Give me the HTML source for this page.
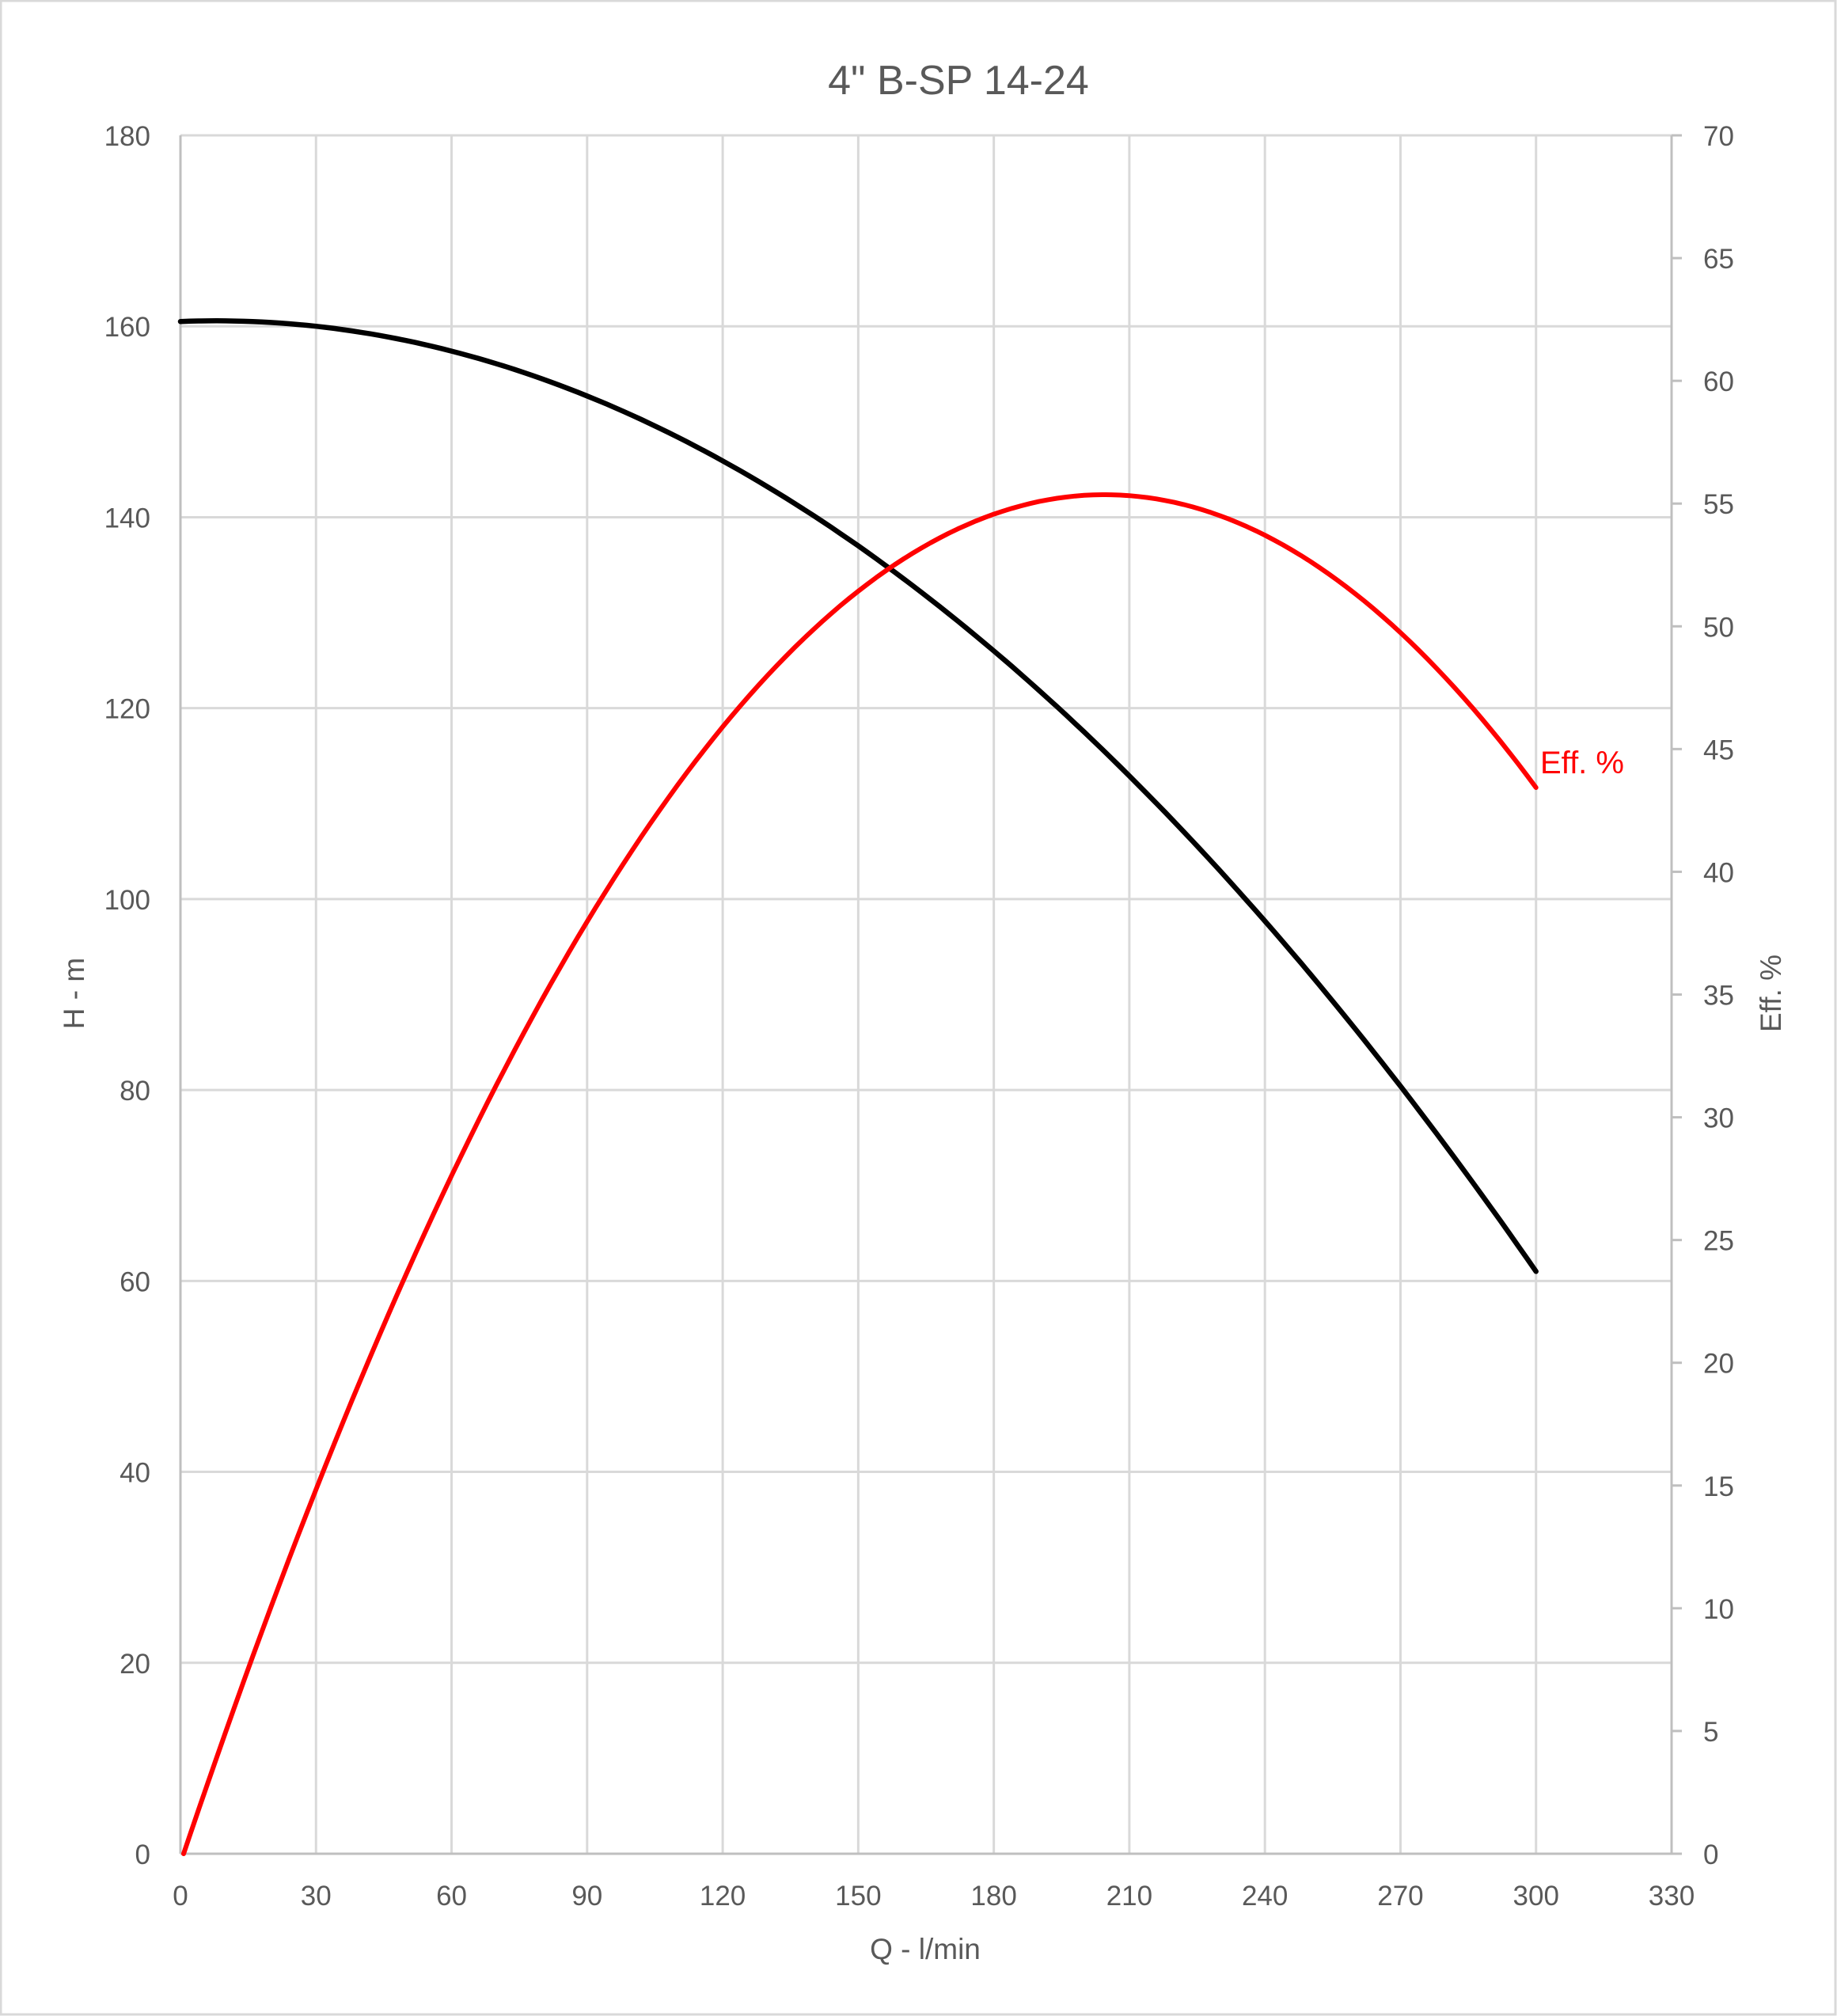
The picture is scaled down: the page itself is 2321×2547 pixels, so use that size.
<!DOCTYPE html>
<html><head><meta charset="utf-8"><style>
html,body{margin:0;padding:0;background:#fff}
svg{display:block}
text{font-family:"Liberation Sans",sans-serif;fill:#595959}
</style></head><body>
<svg id="s" width="2321" height="2547" xmlns="http://www.w3.org/2000/svg">
<rect x="1" y="1" width="2318" height="2544" fill="#fff" stroke="#d9d9d9" stroke-width="3"/>
<g id="grid"></g>
<text x="1211" y="119" font-size="52" text-anchor="middle">4" B-SP 14-24</text>
<text transform="translate(106,1255) rotate(-90)" font-size="37" text-anchor="middle">H - m</text>
<text transform="translate(2250,1255) rotate(-90)" font-size="37" text-anchor="middle">Eff. %</text>
<text x="1169" y="2475" font-size="37" text-anchor="middle">Q - l/min</text>
<text x="1946" y="977" font-size="40" style="fill:#ff0000">Eff. %</text>
<path id="h" fill="none" stroke="#000" stroke-width="6.5" stroke-linecap="round" stroke-linejoin="round"/>
<path id="e" fill="none" stroke="#ff0000" stroke-width="6" stroke-linecap="round" stroke-linejoin="round"/>
</svg>
<script>
var L=228,R=2112,T=171,B=2342;
function X(q){return L+(R-L)*q/330}
function YH(h){return B-(B-T)*h/180}
function YE(e){return B-(B-T)*e/70}
var g='';
for(var i=0;i<=11;i++){var x=X(i*30);
 if(i>0&&i<11)g+='<line x1="'+x+'" y1="'+T+'" x2="'+x+'" y2="'+B+'" stroke="#d9d9d9" stroke-width="3"/>';
 g+='<text x="'+x+'" y="2407" font-size="35" text-anchor="middle">'+(i*30)+'</text>';}
for(var j=0;j<=9;j++){var y=YH(j*20);
 if(j>0)g+='<line x1="'+L+'" y1="'+y+'" x2="'+R+'" y2="'+y+'" stroke="#d9d9d9" stroke-width="3"/>';
 g+='<text x="190" y="'+(y+13)+'" font-size="35" text-anchor="end">'+(j*20)+'</text>';}
for(var k=0;k<=14;k++){var y=YE(k*5);
 g+='<line x1="'+R+'" y1="'+y+'" x2="'+(R+13)+'" y2="'+y+'" stroke="#bfbfbf" stroke-width="3"/>';
 g+='<text x="2152" y="'+(y+13)+'" font-size="35">'+(k*5)+'</text>';}
g+='<line x1="'+L+'" y1="'+T+'" x2="'+L+'" y2="'+B+'" stroke="#bfbfbf" stroke-width="3"/>';
g+='<line x1="'+R+'" y1="'+T+'" x2="'+R+'" y2="'+B+'" stroke="#bfbfbf" stroke-width="3"/>';
g+='<line x1="'+L+'" y1="'+B+'" x2="'+(R+13)+'" y2="'+B+'" stroke="#bfbfbf" stroke-width="3"/>';
document.getElementById('grid').innerHTML=g;
function Hf(q){return 160.5+0.01833*q-0.0011667*q*q}
function Ef(q){return 0.54178*q-0.0013476*q*q+7.58e-8*q*q*q}
var dh='',de='';
for(var q=0;q<=300.001;q+=2){
 dh+=(q?'L':'M')+X(q).toFixed(1)+','+YH(Hf(q)).toFixed(1);
 var qe=Math.max(q,0.7);
 de+=(q?'L':'M')+X(qe).toFixed(1)+','+YE(Math.max(0,Ef(qe)-0.38)*1.012).toFixed(1);
}
document.getElementById('h').setAttribute('d',dh);
document.getElementById('e').setAttribute('d',de);
</script>
</body></html>
